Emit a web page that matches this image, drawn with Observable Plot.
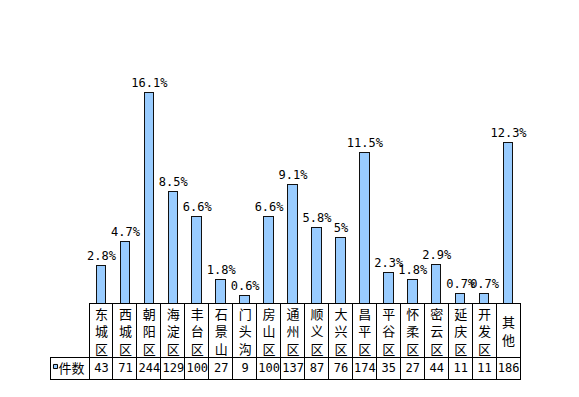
<!DOCTYPE html>
<html><head><meta charset="utf-8">
<script src="https://cdn.jsdelivr.net/npm/d3@7"></script>
<script src="https://cdn.jsdelivr.net/npm/@observablehq/plot@0.6"></script>
<style>body{margin:0;background:#fff}</style>
</head><body><div id="chart"></div>
<script>
const categories = ["东城区","西城区","朝阳区","海淀区","丰台区","石景山","门头沟","房山区","通州区","顺义区","大兴区","昌平区","平谷区","怀柔区","密云区","延庆区","开发区","其他"];
const counts = [43,71,244,129,100,27,9,100,137,87,76,174,35,27,44,11,11,186];
const percentLabels = ["2.8%","4.7%","16.1%","8.5%","6.6%","1.8%","0.6%","6.6%","9.1%","5.8%","5%","11.5%","2.3%","1.8%","2.9%","0.7%","0.7%","12.3%"];
const rowHeader = "件数";

// layout (pixels)
const W = 579, H = 397;
const baseY = 303, topY = 92, catBottomY = 357, tableBottomY = 379;
const leftX = 50, firstColX = 89, rightX = 520;

const n = categories.length;
const step = (rightX - firstColX) / n;
const headerSpan = (firstColX - leftX) / step;
const unit = d3.max(counts) / (baseY - topY);
const catRowY = -(catBottomY - baseY) * unit;
const tableY = -(tableBottomY - baseY) * unit;
const countMid = (catRowY + tableY) / 2;

const data = categories.map((c, i) => ({
  i, name: c, vertical: Array.from(c).join("\n"), count: counts[i], pct: percentLabels[i]
}));

const mono = "'DejaVu Sans Mono', monospace";
const cjk = "'Noto Sans CJK SC', sans-serif";

const plot = Plot.plot({
  width: W, height: H,
  marginLeft: leftX, marginRight: W - rightX, marginTop: topY, marginBottom: H - tableBottomY,
  x: {domain: [-headerSpan, n], axis: null},
  y: {domain: [tableY, d3.max(counts)], axis: null},
  style: {background: "#fff", color: "#000"},
  marks: [
    Plot.rect(data, {x1: "i", x2: d => d.i + 1, y1: 0, y2: "count", insetLeft: 7.2, insetRight: 7.2,
      fill: "#99CCFF", stroke: "#111", strokeWidth: 1, shapeRendering: "crispEdges"}),
    Plot.text(data, {x: d => d.i + 0.5, y: "count", text: "pct", dy: -6, lineAnchor: "bottom",
      fontFamily: mono, fontSize: 12, fill: "#000"}),
    // table: category row
    Plot.rect(data, {x1: "i", x2: d => d.i + 1, y1: catRowY, y2: 0, fill: "none", stroke: "#000", shapeRendering: "crispEdges"}),
    // table: count row
    Plot.rect(data, {x1: "i", x2: d => d.i + 1, y1: tableY, y2: catRowY, fill: "none", stroke: "#000", shapeRendering: "crispEdges"}),
    Plot.rect([rowHeader], {x1: -headerSpan, x2: 0, y1: tableY, y2: catRowY, fill: "none", stroke: "#000", shapeRendering: "crispEdges"}),
    Plot.text(data, {x: d => d.i + 0.5, y: catRowY / 2, text: "vertical", fontFamily: cjk, fontSize: 13, lineHeight: 1.35, fill: "#000"}),
    Plot.text(data, {x: d => d.i + 0.5, y: countMid, text: d => String(d.count), fontFamily: mono, fontSize: 12, fill: "#000"}),
    Plot.dot([rowHeader], {x: -headerSpan, y: countMid, symbol: "square", r: 2.3, dx: 5, dy: -2,
      fill: "#99CCFF", stroke: "#000", strokeWidth: 1}),
    Plot.text([rowHeader], {x: -headerSpan, y: countMid, text: d => d, dx: 8, textAnchor: "start",
      fontFamily: cjk, fontSize: 13, fill: "#000"})
  ]
});
document.getElementById("chart").append(plot);
</script>
</body></html>
